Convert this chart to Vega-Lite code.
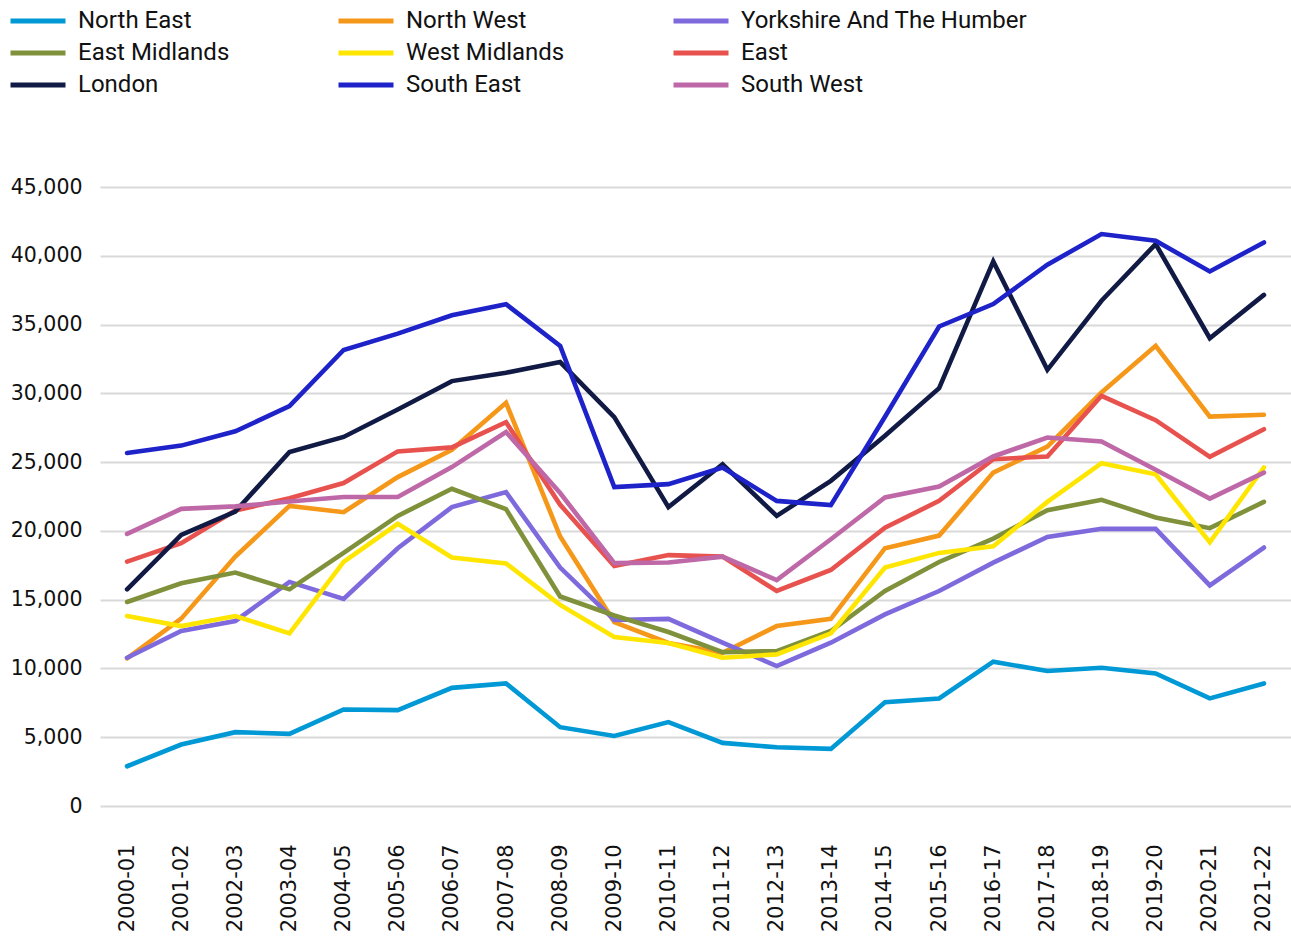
{
  "$schema": "https://vega.github.io/schema/vega-lite/v6.json",
  "width": 1191,
  "height": 619,
  "autosize": {"type": "none"},
  "padding": {"left": 100, "top": 187, "right": 0, "bottom": 130},
  "config": {"view": {"stroke": null}},
  "datasets": {
    "wide": [
      {"period": "2000-01", "North East": 2890, "North West": 10730, "Yorkshire And The Humber": 10780, "East Midlands": 14830, "West Midlands": 13810, "East": 17770, "London": 15750, "South East": 25660, "South West": 19780},
      {"period": "2001-02", "North East": 4470, "North West": 13620, "Yorkshire And The Humber": 12720, "East Midlands": 16190, "West Midlands": 13080, "East": 19100, "London": 19710, "South East": 26200, "South West": 21600},
      {"period": "2002-03", "North East": 5370, "North West": 18130, "Yorkshire And The Humber": 13450, "East Midlands": 16970, "West Midlands": 13810, "East": 21480, "London": 21410, "South East": 27240, "South West": 21780},
      {"period": "2003-04", "North East": 5240, "North West": 21820, "Yorkshire And The Humber": 16290, "East Midlands": 15750, "West Midlands": 12550, "East": 22380, "London": 25740, "South East": 29070, "South West": 22140},
      {"period": "2004-05", "North East": 7020, "North West": 21360, "Yorkshire And The Humber": 15050, "East Midlands": 18400, "West Midlands": 17740, "East": 23480, "London": 26830, "South East": 33150, "South West": 22460},
      {"period": "2005-06", "North East": 6970, "North West": 23910, "Yorkshire And The Humber": 18740, "East Midlands": 21090, "West Midlands": 20510, "East": 25780, "London": 28820, "South East": 34340, "South West": 22460},
      {"period": "2006-07", "North East": 8590, "North West": 25900, "Yorkshire And The Humber": 21730, "East Midlands": 23060, "West Midlands": 18060, "East": 26070, "London": 30890, "South East": 35670, "South West": 24640},
      {"period": "2007-08", "North East": 8910, "North West": 29310, "Yorkshire And The Humber": 22820, "East Midlands": 21580, "West Midlands": 17640, "East": 27900, "London": 31500, "South East": 36480, "South West": 27190},
      {"period": "2008-09", "North East": 5730, "North West": 19590, "Yorkshire And The Humber": 17330, "East Midlands": 15230, "West Midlands": 14620, "East": 21900, "London": 32270, "South East": 33440, "South West": 22750},
      {"period": "2009-10", "North East": 5090, "North West": 13370, "Yorkshire And The Humber": 13520, "East Midlands": 13850, "West Midlands": 12280, "East": 17440, "London": 28270, "South East": 23180, "South West": 17660},
      {"period": "2010-11", "North East": 6100, "North West": 11850, "Yorkshire And The Humber": 13600, "East Midlands": 12650, "West Midlands": 11850, "East": 18240, "London": 21730, "South East": 23400, "South West": 17700},
      {"period": "2011-12", "North East": 4590, "North West": 11140, "Yorkshire And The Humber": 11870, "East Midlands": 11190, "West Midlands": 10780, "East": 18130, "London": 24850, "South East": 24600, "South West": 18130},
      {"period": "2012-13", "North East": 4270, "North West": 13080, "Yorkshire And The Humber": 10170, "East Midlands": 11260, "West Midlands": 11020, "East": 15630, "London": 21090, "South East": 22180, "South West": 16430},
      {"period": "2013-14", "North East": 4150, "North West": 13610, "Yorkshire And The Humber": 11870, "East Midlands": 12720, "West Midlands": 12550, "East": 17160, "London": 23640, "South East": 21870, "South West": 19390},
      {"period": "2014-15", "North East": 7550, "North West": 18740, "Yorkshire And The Humber": 13930, "East Midlands": 15630, "West Midlands": 17330, "East": 20240, "London": 26910, "South East": 28300, "South West": 22430},
      {"period": "2015-16", "North East": 7820, "North West": 19660, "Yorkshire And The Humber": 15630, "East Midlands": 17740, "West Midlands": 18400, "East": 22180, "London": 30380, "South East": 34860, "South West": 23230},
      {"period": "2016-17", "North East": 10490, "North West": 24240, "Yorkshire And The Humber": 17690, "East Midlands": 19440, "West Midlands": 18880, "East": 25210, "London": 39590, "South East": 36490, "South West": 25410},
      {"period": "2017-18", "North East": 9810, "North West": 26130, "Yorkshire And The Humber": 19560, "East Midlands": 21500, "West Midlands": 22110, "East": 25410, "London": 31710, "South East": 39350, "South West": 26790},
      {"period": "2018-19", "North East": 10050, "North West": 30060, "Yorkshire And The Humber": 20150, "East Midlands": 22260, "West Midlands": 24920, "East": 29820, "London": 36730, "South East": 41580, "South West": 26500},
      {"period": "2019-20", "North East": 9640, "North West": 33450, "Yorkshire And The Humber": 20150, "East Midlands": 20970, "West Midlands": 24120, "East": 28050, "London": 40850, "South East": 41090, "South West": 24440},
      {"period": "2020-21", "North East": 7820, "North West": 28310, "Yorkshire And The Humber": 16040, "East Midlands": 20200, "West Midlands": 19170, "East": 25380, "London": 34010, "South East": 38860, "South West": 22350},
      {"period": "2021-22", "North East": 8910, "North West": 28440, "Yorkshire And The Humber": 18790, "East Midlands": 22110, "West Midlands": 24610, "East": 27390, "London": 37160, "South East": 40970, "South West": 24240}
    ]
  },
  "data": {"name": "wide"},
  "transform": [
    {"fold": ["North East", "North West", "Yorkshire And The Humber", "East Midlands", "West Midlands", "East", "London", "South East", "South West"], "as": ["region", "value"]}
  ],
  "mark": {"type": "line", "strokeWidth": 4.6, "strokeCap": "round", "strokeJoin": "miter"},
  "encoding": {
    "x": {
      "field": "period", "type": "ordinal",
      "scale": {"type": "point", "padding": 0.5},
      "axis": {"title": null, "labelAngle": -90, "labelFont": "DejaVu Sans", "labelFontSize": 21, "labelColor": "#111111", "labelPadding": 38, "ticks": false, "domain": false, "grid": false}
    },
    "y": {
      "field": "value", "type": "quantitative",
      "scale": {"domain": [0, 45000], "nice": false},
      "axis": {"title": null, "values": [0, 5000, 10000, 15000, 20000, 25000, 30000, 35000, 40000, 45000], "format": ",.0f", "grid": true, "gridColor": "#d9d9d9", "gridWidth": 2, "domain": false, "ticks": false, "labelPadding": 18, "labelFont": "DejaVu Sans", "labelFontSize": 20.5, "labelColor": "#111111"}
    },
    "color": {
      "field": "region", "type": "nominal",
      "scale": {
        "domain": ["North East", "East Midlands", "London", "North West", "West Midlands", "South East", "Yorkshire And The Humber", "East", "South West"],
        "range": ["#0099D5", "#80913C", "#111A44", "#F5981A", "#FFE600", "#1E22C9", "#7E69DD", "#E8524E", "#BF68A8"]
      },
      "legend": {
        "title": null, "orient": "none", "legendX": -92, "legendY": -182, "columns": 3,
        "symbolType": "stroke", "symbolSize": 3025, "symbolStrokeWidth": 5,
        "labelFont": "Roboto", "labelFontSize": 24, "labelColor": "#111111", "labelOffset": 10, "labelLimit": 400,
        "columnPadding": 106, "rowPadding": 0, "clipHeight": 32
      }
    }
  }
}
